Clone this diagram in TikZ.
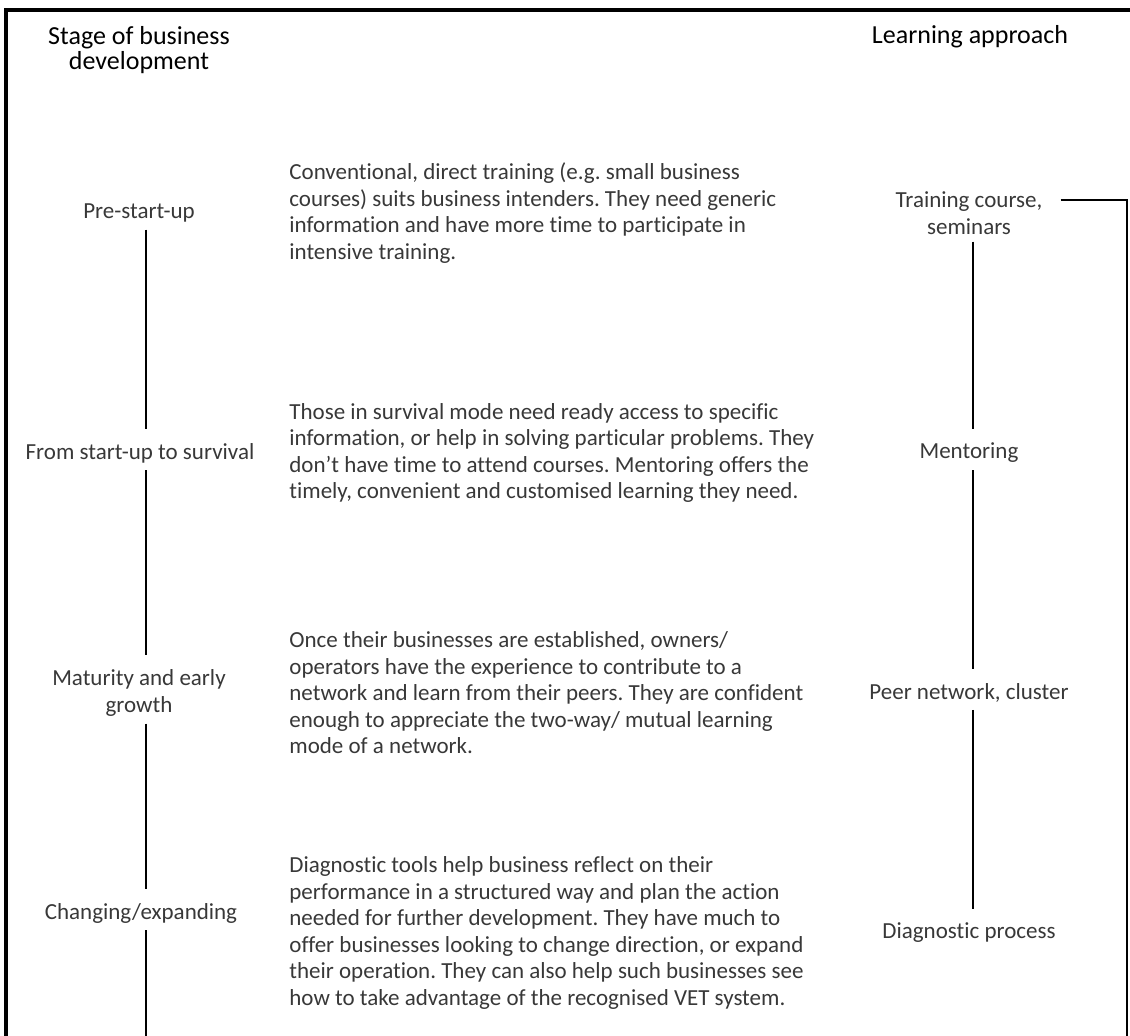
\documentclass[tikz,border=0pt]{standalone}
\usepackage{fontspec}
\setmainfont{Carlito}[Ligatures=NoCommon]
\frenchspacing
\begin{document}
\begin{tikzpicture}[x=0.5pt,y=-0.5pt,
  body/.style={font=\fontsize{11.5}{13.25}\selectfont\frenchspacing, text=black!78, inner sep=0pt, align=left, anchor=west},
  lbl/.style={font=\fontsize{11.5}{13.25}\selectfont, text=black!78, inner sep=0pt, align=center},
  hdr/.style={font=\fontsize{13}{12.2}\selectfont, text=black, inner sep=0pt, align=center},
  conn/.style={line width=1pt},
  frameline/.style={line width=1.6pt}]
\useasboundingbox (0,0) rectangle (1130,1036);
% frame (top and left edges)
\coordinate (fbl) at (6,1040);
\coordinate (ftl) at (6,10);
\coordinate (ftr) at (1134,10);
\draw[frameline] (fbl) -- (ftl) -- (ftr);
% headers
\node[hdr] (hstage) at (139,50) {Stage of business\\development};
\node[hdr] (hlearn) at (970,37) {Learning approach};
% column axes
\coordinate (lx) at (146,0);
\coordinate (rx) at (973,0);
\coordinate (bot) at (0,1036);
% left labels
\node[lbl] (pre) at (139,213) {Pre-start-up};
\node[lbl] (surv) at (140,453) {From start-up to survival};
\node[lbl] (mat) at (139,693) {Maturity and early\\growth};
\node[lbl] (chg) at (141,913) {Changing/expanding};
% paragraphs
\node[body] (p1) at (289,213) {Conventional, direct training (e.g. small business\\courses) suits business intenders. They need generic\\information and have more time to participate in\\intensive training.};
\node[body] (p2) at (289,453) {Those in survival mode need ready access to specific\\information, or help in solving particular problems. They\\don’t have time to attend courses. Mentoring offers the\\timely, convenient and customised learning they need.};
\node[body] (p3) at (289,693) {Once their businesses are established, owners/\\operators have the experience to contribute to a\\network and learn from their peers. They are confident\\enough to appreciate the two-way/ mutual learning\\mode of a network.};
\node[body] (p4) at (289,933) {Diagnostic tools help business reflect on their\\performance in a structured way and plan the action\\needed for further development. They have much to\\offer businesses looking to change direction, or expand\\their operation. They can also help such businesses see\\how to take advantage of the recognised VET system.};
% right labels
\node[lbl] (trn) at (969,213) {Training course,\\seminars};
\node[lbl] (men) at (969,453) {Mentoring};
\node[lbl] (peer) at (969,693) {Peer network, cluster};
\node[lbl] (diag) at (969,933) {Diagnostic process};
% left connectors
\draw[conn] ([yshift=-3.5pt]pre.south -| lx) -- ([yshift=7pt]surv.north -| lx);
\draw[conn] ([yshift=-3.5pt]surv.south -| lx) -- ([yshift=7pt]mat.north -| lx);
\draw[conn] ([yshift=-3.5pt]mat.south -| lx) -- ([yshift=7pt]chg.north -| lx);
\draw[conn] ([yshift=-3.5pt]chg.south -| lx) -- (bot -| lx);
% right connectors
\draw[conn] ([yshift=-3.5pt]trn.south -| rx) -- ([yshift=7pt]men.north -| rx);
\draw[conn] ([yshift=-3.5pt]men.south -| rx) -- ([yshift=7pt]peer.north -| rx);
\draw[conn] ([yshift=-3.5pt]peer.south -| rx) -- ([yshift=7pt]diag.north -| rx);
% bracket
\coordinate (bk) at (1127,200);
\draw[conn] ([xshift=9pt]trn.east |- bk) -- (bk) -- (bk |- bot);
\end{tikzpicture}
\end{document}
